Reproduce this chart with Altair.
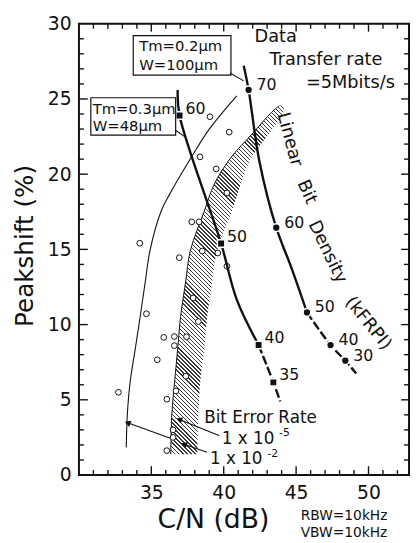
import math
import altair as alt
import pandas as pd

# ---------------- data ----------------
# thin curve at the left (bit error rate boundary)
thin_x = [33.27, 33.34, 33.54, 33.89, 34.23, 34.57, 34.91, 35.68, 36.25, 37.70, 39.00, 40.90]
thin_y = [1.83, 3.99, 6.22, 8.38, 10.54, 12.77, 14.93, 17.55, 18.64, 21.02, 22.99, 25.21]

# hatched bit-error-rate band (1e-5 .. 1e-2)
band_y = [1.38, 3.99, 6.22, 8.38, 10.54, 12.77, 14.93, 17.55, 19.32, 21.02, 22.79, 24.10, 24.56]
band_left = [36.34, 36.41, 36.61, 36.82, 37.02, 37.36, 37.70, 38.66, 39.34, 40.43, 42.07, 43.29, 43.84]
band_right = [38.18, 38.25, 38.38, 38.66, 38.86, 39.20, 39.54, 40.57, 41.18, 41.86, 43.22, 44.11, 44.18]

# Tm=0.3um, W=48um head (squares)
sq_line_x = [36.82, 36.95, 39.82, 40.90, 42.41, 43.43, 43.90]
sq_line_y = [25.60, 23.90, 15.39, 11.66, 8.64, 6.16, 4.90]
sq_x = [36.95, 39.82, 42.41, 43.43]
sq_y = [23.90, 15.39, 8.64, 6.16]
sq_lab = ["60", "50", "40", "35"]

# Tm=0.2um, W=100um head (circles)
ci_line_x = [41.38, 41.72, 42.47, 43.63, 44.66, 45.75, 47.38, 48.40, 49.15]
ci_line_y = [27.20, 25.60, 20.83, 16.44, 13.82, 10.81, 8.64, 7.60, 6.75]
ci_x = [41.72, 43.63, 45.75, 47.38, 48.40]
ci_y = [25.60, 16.44, 10.81, 8.64, 7.60]
ci_lab = ["70", "60", "50", "40", "30"]

# measured points (open circles)
open_x = [39.05, 40.38, 38.36, 39.48, 40.22, 37.79, 38.30, 34.20, 36.93, 38.52, 39.59, 40.22,
          37.89, 34.66, 38.25, 35.86, 36.59, 36.59, 37.43, 35.41, 37.38, 32.73, 36.70, 36.07,
          36.50, 36.50, 36.07]
open_y = [23.82, 22.79, 21.15, 20.35, 18.75, 16.83, 16.83, 15.41, 14.45, 14.89, 14.76, 13.88,
          11.77, 10.72, 10.20, 9.15, 9.21, 8.60, 9.19, 7.66, 6.57, 5.50, 5.59, 5.04,
          3.00, 2.50, 1.62]

x_ticks = [35, 40, 45, 50]
y_ticks = [0, 5, 10, 15, 20, 25, 30]

# ---------------- layout / style ----------------
W, H = 335, 458
XD = [30, 52.8]
YD = [0, 30]
FONT = "DejaVu Sans"
INK = "#111111"
CURVE = "catmull-rom"

xs = alt.Scale(domain=XD, nice=False, zero=False)
ys = alt.Scale(domain=YD, nice=False, zero=False)

AX_X = alt.Axis(values=x_ticks, title="C/N (dB)", domain=False, ticks=False, grid=False,
                labelFont=FONT, labelFontSize=19, labelColor=INK, labelPadding=9,
                titleFont=FONT, titleFontSize=27, titleFontWeight="normal", titleColor=INK,
                titleX=136, titleY=45, titleBaseline="middle", titleAlign="center")
AX_Y = alt.Axis(values=y_ticks, title="Peakshift (%)", domain=False, ticks=False, grid=False,
                labelFont=FONT, labelFontSize=19, labelColor=INK, labelPadding=8,
                titleFont=FONT, titleFontSize=25, titleFontWeight="normal", titleColor=INK,
                titleX=-55, titleY=225, titleAngle=270, titleBaseline="middle", titleAlign="center")


def X(f):
    return alt.X(f, type="quantitative", scale=xs, axis=AX_X)


def Y(f):
    return alt.Y(f, type="quantitative", scale=ys, axis=AX_Y)


# ---------------- hatch pattern for the band (gradient stripes) ----------------
ppx = W / (XD[1] - XD[0])
ppy = H / (YD[1] - YD[0])
bw = (max(band_right) - min(band_left)) * ppx
bh = (max(band_y) - min(band_y)) * ppy
k = bw * (bw + bh) / (bw ** 2 + bh ** 2)
n_str = int(round((bw + bh) / math.sqrt(2) / 2.9))
stops = []
for i in range(n_str):
    a, b, c = i / n_str, (i + 0.34) / n_str, (i + 1) / n_str
    stops += [{"offset": a, "color": "#3a3a3a"}, {"offset": b, "color": "#3a3a3a"},
              {"offset": b, "color": "#ffffff"}, {"offset": c, "color": "#ffffff"}]
hatch = {"gradient": "linear", "x1": 0, "y1": 1, "x2": k, "y2": 1 - k * bh / bw, "stops": stops}

# ---------------- layers ----------------
band_df = pd.DataFrame({"y": band_y, "l": band_left, "r": band_right})
band = alt.Chart(band_df).mark_area(orient="horizontal", interpolate=CURVE, fill=hatch,
                                    stroke=None).encode(y=Y("y"), x=X("l"), x2="r")
band_edge = alt.Chart(band_df).mark_line(color=INK, strokeWidth=1, interpolate=CURVE).encode(
    x=X("l"), y=Y("y"), order=alt.Order("y:Q"))

thin = alt.Chart(pd.DataFrame({"x": thin_x, "y": thin_y})).mark_line(
    color=INK, strokeWidth=1.1, interpolate=CURVE).encode(x=X("x"), y=Y("y"), order=alt.Order("y:Q"))

opn = alt.Chart(pd.DataFrame({"x": open_x, "y": open_y})).mark_point(
    shape="circle", filled=True, fill="white", stroke=INK, strokeWidth=1, size=34, opacity=1).encode(
    x=X("x"), y=Y("y"))

sq_df = pd.DataFrame({"x": sq_line_x, "y": sq_line_y})
sq_solid = alt.Chart(sq_df.iloc[:5]).mark_line(color=INK, strokeWidth=2.4, interpolate=CURVE).encode(
    x=X("x"), y=Y("y"))
sq_dash = alt.Chart(sq_df.iloc[4:]).mark_line(color=INK, strokeWidth=2.4, strokeDash=[9, 3],
                                             interpolate=CURVE).encode(x=X("x"), y=Y("y"))
ci_df = pd.DataFrame({"x": ci_line_x, "y": ci_line_y})
ci_solid = alt.Chart(ci_df.iloc[:6]).mark_line(color=INK, strokeWidth=2.4, interpolate=CURVE).encode(
    x=X("x"), y=Y("y"))
ci_dash = alt.Chart(ci_df.iloc[5:]).mark_line(color=INK, strokeWidth=2.4, strokeDash=[9, 3],
                                             interpolate=CURVE).encode(x=X("x"), y=Y("y"))

sq_m_df = pd.DataFrame({"x": sq_x, "y": sq_y, "t": sq_lab})
ci_m_df = pd.DataFrame({"x": ci_x, "y": ci_y, "t": ci_lab})
sq_m = alt.Chart(sq_m_df).mark_point(shape="square", filled=True, fill=INK, stroke="white",
                                     strokeWidth=1.5, size=56, opacity=1).encode(x=X("x"), y=Y("y"))
ci_m = alt.Chart(ci_m_df).mark_point(shape="circle", filled=True, fill=INK, stroke="white",
                                     strokeWidth=1.5, size=62, opacity=1).encode(x=X("x"), y=Y("y"))
sq_t = alt.Chart(sq_m_df).mark_text(font=FONT, fontSize=16, align="left", baseline="middle",
                                    dx=6, dy=-7, color=INK).encode(x=X("x"), y=Y("y"), text="t:N")
ci_t = alt.Chart(ci_m_df).mark_text(font=FONT, fontSize=16, align="left", baseline="middle",
                                    dx=8, dy=-5, color=INK).encode(x=X("x"), y=Y("y"), text="t:N")

# annotation boxes
box_df = pd.DataFrame({"x": [33.75, 30.82], "x2": [40.50, 36.68], "y": [29.21, 25.08], "y2": [26.59, 22.59]})
boxes = alt.Chart(box_df).mark_rect(fill="white", stroke=INK, strokeWidth=1.2).encode(
    x=X("x"), x2="x2", y=Y("y"), y2="y2")

# leader lines and arrows
lead_df = pd.DataFrame({
    "x": [40.43, 36.67, 39.67, 38.85, 36.32],
    "y": [26.72, 22.92, 2.62, 1.51, 2.44],
    "x2": [41.38, 37.35, 36.93, 37.27, 33.36],
    "y2": [26.20, 22.46, 3.69, 2.05, 3.47],
})
leads = alt.Chart(lead_df).mark_rule(color=INK, strokeWidth=1.1).encode(
    x=X("x"), y=Y("y"), x2="x2", y2="y2")
heads = alt.Chart(pd.DataFrame({"x": [36.93, 37.27, 33.36], "y": [3.69, 2.05, 3.47]})).mark_point(
    shape="triangle-left", filled=True, fill=INK, size=45, angle=20, opacity=1, stroke=None).encode(
    x=X("x"), y=Y("y"))

# text annotations (data coordinates)
txt_box = pd.DataFrame({
    "x": [34.16, 34.16, 30.95, 30.95],
    "y": [28.49, 27.24, 24.36, 23.18],
    "t": ["Tm=0.2\u00b5m", "W=100\u00b5m", "Tm=0.3\u00b5m", "W=48\u00b5m"],
})
txt_rate = pd.DataFrame({
    "x": [42.13, 43.16, 45.68],
    "y": [29.14, 27.57, 26.06],
    "t": ["Data", "Transfer rate", "=5Mbits/s"],
})
txt_ber = pd.DataFrame({
    "x": [38.65, 39.87, 39.05],
    "y": [3.80, 2.36, 1.05],
    "t": ["Bit Error Rate", "1 x 10", "1 x 10"],
})
txt_sup = pd.DataFrame({"x": [43.82, 43.02], "y": [2.78, 1.38], "t": ["-5", "-2"]})


def tlayer(df, size, angle=0, align="left"):
    return alt.Chart(df).mark_text(font=FONT, fontSize=size, align=align, baseline="middle",
                                   angle=angle, color=INK).encode(x=X("x"), y=Y("y"), text="t:N")


t_box = tlayer(txt_box, 15)
t_rate = tlayer(txt_rate, 18)
t_ber = tlayer(txt_ber, 17)
t_sup = tlayer(txt_sup, 11)

rot_words = [("Linear", 44.54, 22.30, 75), ("Bit", 45.73, 18.81, 66),
             ("Density", 47.16, 14.82, 64), ("(kFRPI)", 49.97, 10.08, 51)]
t_rot = [tlayer(pd.DataFrame({"x": [x], "y": [y], "t": [w]}), 18, angle=a, align="center")
         for w, x, y, a in rot_words]

# RBW / VBW note (below the plot, pixel offsets)
rbw = alt.Chart(pd.DataFrame({"t": ["RBW=10kHz"]})).mark_text(
    font=FONT, fontSize=14, align="left", baseline="middle", color=INK).encode(
    x=alt.value(225), y=alt.value(500), text="t:N")
vbw = alt.Chart(pd.DataFrame({"t": ["VBW=10kHz"]})).mark_text(
    font=FONT, fontSize=14, align="left", baseline="middle", color=INK).encode(
    x=alt.value(225), y=alt.value(517), text="t:N")

# inward ticks on all four sides
x_minor = [v for v in range(31, 53) if v not in x_ticks]
y_minor = [v for v in range(1, 30) if v not in y_ticks]


def xt(vals, length, top):
    df = pd.DataFrame({"x": vals})
    if top:
        enc = dict(y=alt.value(0), y2=alt.value(length))
    else:
        enc = dict(y=alt.value(H), y2=alt.value(H - length))
    return alt.Chart(df).mark_rule(color=INK, strokeWidth=1.4).encode(x=X("x"), **enc)


def yt(vals, length, right):
    df = pd.DataFrame({"y": vals})
    if right:
        enc = dict(x=alt.value(W), x2=alt.value(W - length))
    else:
        enc = dict(x=alt.value(0), x2=alt.value(length))
    return alt.Chart(df).mark_rule(color=INK, strokeWidth=1.4).encode(y=Y("y"), **enc)


ticks = [xt(x_ticks, 9, False), xt(x_minor, 5, False), xt(x_ticks, 8, True), xt(x_minor, 5, True),
         yt(y_ticks[1:-1], 9, False), yt(y_minor, 5, False), yt(y_ticks[1:-1], 8, True), yt(y_minor, 5, True)]

chart = alt.layer(
    band, band_edge, thin, opn, sq_solid, sq_dash, ci_solid, ci_dash, sq_m, ci_m, sq_t, ci_t,
    boxes, leads, heads, t_box, t_rate, t_ber, t_sup, *t_rot, rbw, vbw, *ticks
).properties(
    width=W, height=H,
    padding={"left": 72, "top": 12, "right": 2, "bottom": 64},
    autosize=alt.AutoSizeParams(type="none"),
    background="white",
).configure_view(stroke=INK, strokeWidth=2)

chart.save("out.html", embed_options={"renderer": "svg", "actions": False})
